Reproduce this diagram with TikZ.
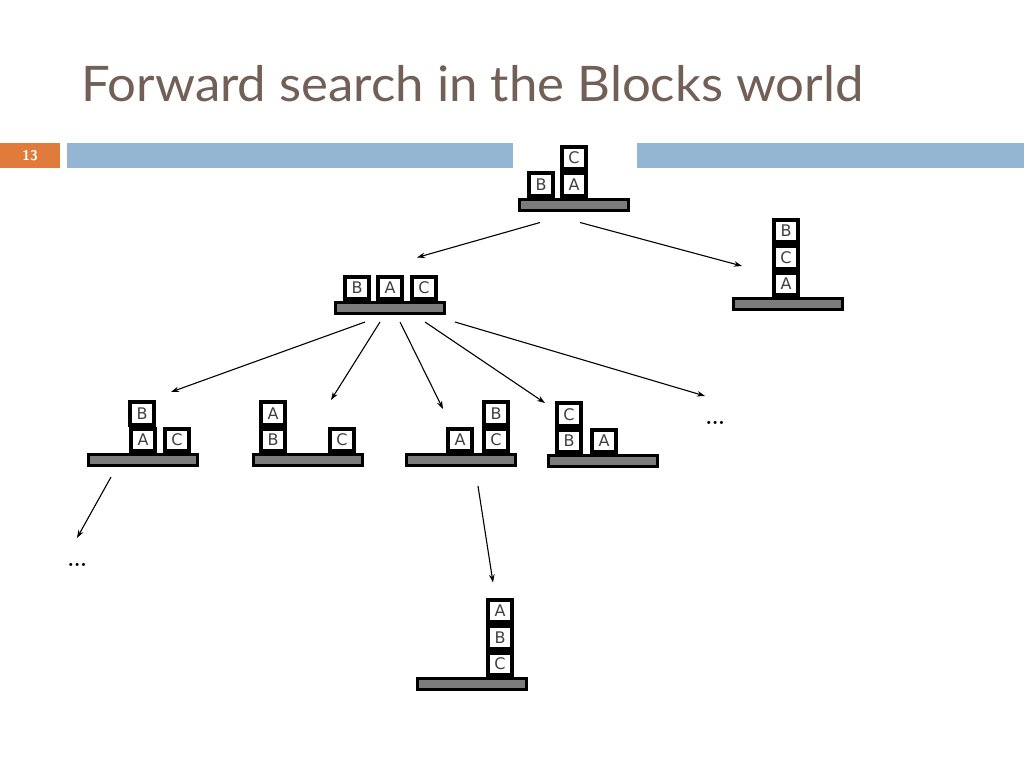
\documentclass[tikz,border=0pt]{standalone}
\usepackage{fontspec}
\usetikzlibrary{arrows.meta,positioning}
\newfontfamily\titlefont[FakeStretch=1.04]{Lato}
\newfontfamily\blockfont{DejaVu Sans}
\definecolor{titlebrown}{HTML}{725F56}
\definecolor{slideorange}{HTML}{E07B3C}
\definecolor{slideblue}{HTML}{94B6D3}
\definecolor{tablegray}{HTML}{7C7C7C}

\begin{document}
\begin{tikzpicture}[x=1pt,y=-1pt,
    blk/.style={draw=black, line width=4pt, fill=white, minimum width=23.5pt,
        minimum height=22.5pt, inner sep=0pt, text=black!75,
        font=\blockfont\fontsize{16}{16}\selectfont},
    tbl/.style={draw=black, line width=3pt, fill=tablegray, minimum width=109pt,
        minimum height=11pt, inner sep=0pt},
    move/.style={-{Stealth[length=8pt,width=5.5pt]}, line width=1.1pt},
    more/.style={font=\fontsize{38}{38}\selectfont, inner sep=0pt}]
    \useasboundingbox[fill=white] (0,0) rectangle (1024,768);

    % slide header
    \node[anchor=base west, inner sep=0pt, text=titlebrown,
        font=\titlefont\fontsize{49}{49}\selectfont] (title) at (81,101)
        {Forward search in the Blocks world};
    \fill[slideorange] (0,143) rectangle (60,168);
    \node[text=white, font=\sffamily\bfseries\fontsize{14}{14}\selectfont] (pageno) at (30,155.5) {13};
    \fill[slideblue] (67,143) rectangle (513,168);
    \fill[slideblue] (637,143) rectangle (1024,168);

    % initial state
    \node[tbl] (t0) at (574,204.5) {};
    \node[blk, above=0pt of t0, xshift=-33pt] (b0) {B};
    \node[blk, above=0pt of t0] (a0) {A};
    \node[blk, above=0pt of a0] (c0) {C};

    % level 1
    \node[tbl] (t1) at (390,308) {};
    \node[blk, above=0pt of t1, xshift=-33pt] (b1) {B};
    \node[blk, above=0pt of t1] (a1) {A};
    \node[blk, above=0pt of t1, xshift=34pt] (c1) {C};

    \node[tbl] (tR) at (788,304) {};
    \node[blk, above=0pt of tR, xshift=-2pt] (aR) {A};
    \node[blk, above=0pt of aR] (cR) {C};
    \node[blk, above=0pt of cR] (bR) {B};

    % level 2
    \node[tbl] (t2a) at (143,460) {};
    \node[blk, above=0pt of t2a] (a2a) {A};
    \node[blk, above=0pt of a2a, xshift=-1pt] (b2a) {B};
    \node[blk, above=0pt of t2a, xshift=34pt] (c2a) {C};

    \node[tbl] (t2b) at (308,460) {};
    \node[blk, above=0pt of t2b, xshift=-35pt] (b2b) {B};
    \node[blk, above=0pt of b2b] (a2b) {A};
    \node[blk, above=0pt of t2b, xshift=34pt] (c2b) {C};

    \node[tbl] (t2c) at (461,460) {};
    \node[blk, above=0pt of t2c, xshift=-1pt] (a2c) {A};
    \node[blk, above=0pt of t2c, xshift=35pt] (c2c) {C};
    \node[blk, above=0pt of c2c] (b2c) {B};

    \node[tbl] (t2d) at (603,461) {};
    \node[blk, above=0pt of t2d, xshift=-34pt] (b2d) {B};
    \node[blk, above=0pt of b2d] (c2d) {C};
    \node[blk, above=0pt of t2d, xshift=1pt] (a2d) {A};

    \node[more] (more1) at (716,423) {\ldots};
    \node[more] (more2) at (78,565) {\ldots};

    % level 3
    \node[tbl] (t3) at (472,684) {};
    \node[blk, above=0pt of t3, xshift=28pt] (c3) {C};
    \node[blk, above=0pt of c3] (b3) {B};
    \node[blk, above=0pt of b3] (a3) {A};

    % moves
    \draw[move] ([shift={(-34,11)}]t0.south) -- ([shift={(27,-17)}]a1.north);
    \draw[move] ([shift={(6,11)}]t0.south) -- ([shift={(-46,-31)}]tR.north);
    \draw[move] ([shift={(-25,7)}]t1.south) -- ([shift={(28,-61)}]t2a.north);
    \draw[move] ([shift={(-10,7)}]t1.south) -- ([shift={(23,-53)}]t2b.north);
    \draw[move] ([shift={(10,7)}]t1.south) -- ([shift={(-18,-44)}]t2c.north);
    \draw[move] ([shift={(35,7)}]t1.south) -- ([shift={(-58,-51)}]t2d.north);
    \draw[move] ([shift={(65,7)}]t1.south) -- ([shift={(-11,-27)}]more1.center);
    \draw[move] ([shift={(-32,10)}]t2a.south) -- ([shift={(-1,-27)}]more2.center);
    \draw[move] ([shift={(17,19)}]t2c.south) -- ([shift={(-7,-15)}]a3.north);
\end{tikzpicture}
\end{document}
